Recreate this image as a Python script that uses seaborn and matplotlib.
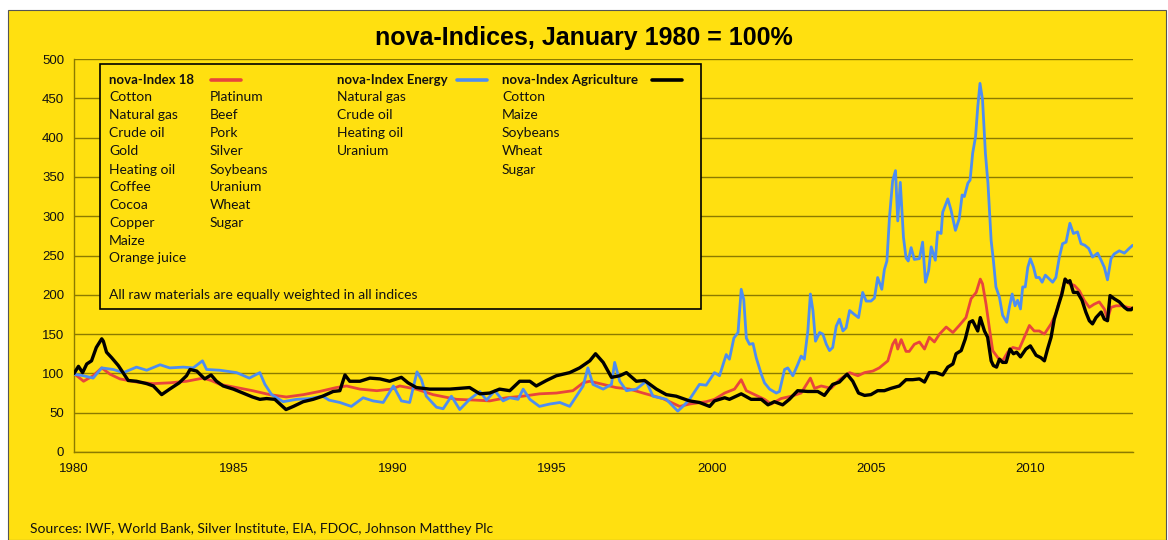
import pandas as pd
import seaborn as sns
import matplotlib.pyplot as plt
from matplotlib.patches import Rectangle
from matplotlib.lines import Line2D
from matplotlib.ticker import MultipleLocator

W, H = 1168, 540
BG = "#FFE010"
GRID = "#8C7A00"
RED = "#E8453C"
BLUE = "#4D8DF2"
BLACK = "#000000"

# nova-Index 18
idx18_years = [1980.0, 1980.3, 1980.6, 1980.87, 1981.13, 1981.44, 1981.96, 1982.49, 1983.0, 1983.53,
               1984.05, 1984.3, 1984.58, 1985.1, 1985.6, 1986.14, 1986.66, 1987.2, 1987.7, 1988.23,
               1988.55, 1988.97, 1989.5, 1989.95, 1990.22, 1990.74, 1991.26, 1992.0, 1992.6, 1993.04,
               1993.56, 1994.08, 1994.6, 1995.13, 1995.65, 1995.97, 1996.18, 1996.6, 1997.0, 1997.43,
               1997.85, 1998.47, 1999.0, 1999.31, 1999.83, 2000.09, 2000.41, 2000.72, 2000.93, 2001.09,
               2001.35, 2001.66, 2001.87, 2002.18, 2002.5, 2002.81, 2003.1, 2003.23, 2003.44, 2003.75,
               2004.01, 2004.33, 2004.59, 2004.8, 2005.06, 2005.26, 2005.53, 2005.68, 2005.77, 2005.84,
               2005.95, 2006.1, 2006.2, 2006.36, 2006.52, 2006.68, 2006.83, 2006.99, 2007.15, 2007.36,
               2007.57, 2007.77, 2007.98, 2008.14, 2008.3, 2008.43, 2008.5, 2008.61, 2008.71, 2008.82,
               2008.98, 2009.13, 2009.29, 2009.45, 2009.65, 2009.81, 2009.97, 2010.12, 2010.28, 2010.44,
               2010.65, 2010.8, 2010.96, 2011.09, 2011.22, 2011.38, 2011.54, 2011.69, 2011.85, 2012.0,
               2012.16, 2012.32, 2012.42, 2012.53, 2012.69, 2012.9, 2013.05, 2013.21]
idx18_vals = [100, 90, 97, 107, 99, 93, 89, 87, 88, 90,
              94, 91, 86, 82, 78, 73, 70, 73, 77, 82,
              84, 80, 78, 80, 84, 80, 73, 67, 66, 65,
              69, 71, 74, 75, 78, 88, 90, 86, 82, 80,
              75, 68, 58, 61, 64, 67, 75, 80, 92, 78,
              73, 67, 61, 68, 71, 75, 94, 81, 84, 81,
              92, 101, 97, 101, 103, 107, 116, 137, 143, 131,
              143, 128, 128, 137, 140, 131, 146, 140, 150, 159,
              152, 161, 171, 195, 203, 220, 214, 188, 159, 129,
              120, 116, 127, 133, 131, 146, 161, 154, 154, 150,
              163, 176, 199, 220, 214, 212, 205, 193, 184, 188,
              191, 182, 169, 184, 186, 186, 184, 183]

# nova-Index Energy
energy_years = [1980.0, 1980.3, 1980.6, 1980.87, 1981.23, 1981.55, 1981.96, 1982.28, 1982.7, 1983.0,
                1983.43, 1983.74, 1984.03, 1984.16, 1984.58, 1985.1, 1985.5, 1985.83, 1985.99, 1986.2,
                1986.56, 1986.98, 1987.4, 1987.8, 1988.0, 1988.34, 1988.7, 1989.07, 1989.38, 1989.7,
                1990.02, 1990.27, 1990.53, 1990.76, 1990.9, 1991.05, 1991.37, 1991.58, 1991.84, 1992.1,
                1992.41, 1992.73, 1992.94, 1993.2, 1993.46, 1993.67, 1993.93, 1994.09, 1994.3, 1994.6,
                1994.92, 1995.24, 1995.55, 1995.76, 1995.97, 1996.12, 1996.28, 1996.6, 1996.86, 1996.96,
                1997.12, 1997.33, 1997.64, 1997.95, 1998.16, 1998.58, 1998.94, 1999.1, 1999.31, 1999.62,
                1999.83, 2000.09, 2000.25, 2000.46, 2000.56, 2000.7, 2000.83, 2000.93, 2001.01, 2001.09,
                2001.19, 2001.3, 2001.4, 2001.56, 2001.66, 2001.82, 2002.03, 2002.13, 2002.29, 2002.39,
                2002.55, 2002.7, 2002.81, 2002.91, 2003.02, 2003.1, 2003.18, 2003.26, 2003.39, 2003.49,
                2003.6, 2003.7, 2003.8, 2003.91, 2004.01, 2004.12, 2004.22, 2004.33, 2004.48, 2004.61,
                2004.74, 2004.85, 2005.0, 2005.11, 2005.21, 2005.34, 2005.42, 2005.5, 2005.58, 2005.68,
                2005.77, 2005.84, 2005.92, 2006.02, 2006.1, 2006.17, 2006.26, 2006.36, 2006.52, 2006.62,
                2006.71, 2006.81, 2006.89, 2007.02, 2007.09, 2007.2, 2007.25, 2007.41, 2007.51, 2007.65,
                2007.77, 2007.86, 2007.93, 2008.04, 2008.11, 2008.19, 2008.28, 2008.35, 2008.42, 2008.5,
                2008.59, 2008.67, 2008.77, 2008.84, 2008.92, 2009.03, 2009.13, 2009.26, 2009.34, 2009.43,
                2009.52, 2009.6, 2009.69, 2009.76, 2009.84, 2009.92, 2010.0, 2010.1, 2010.18, 2010.28,
                2010.37, 2010.47, 2010.6, 2010.7, 2010.8, 2010.91, 2011.01, 2011.12, 2011.24, 2011.35,
                2011.48, 2011.59, 2011.71, 2011.83, 2011.95, 2012.11, 2012.22, 2012.32, 2012.42, 2012.53,
                2012.63, 2012.79, 2012.95, 2013.1, 2013.21]
energy_vals = [99, 97, 94, 107, 105, 101, 108, 104, 111, 107,
               108, 107, 116, 105, 104, 101, 94, 101, 86, 73,
               64, 67, 68, 71, 66, 63, 58, 69, 65, 63,
               84, 65, 63, 102, 92, 71, 57, 55, 71, 54,
               67, 77, 66, 78, 65, 69, 67, 80, 67, 58,
               61, 63, 58, 71, 84, 107, 86, 80, 86, 114,
               90, 78, 80, 90, 71, 67, 52, 58, 67, 86,
               85, 101, 97, 124, 118, 145, 152, 207, 194, 145,
               137, 138, 120, 99, 88, 80, 75, 77, 105, 107,
               97, 111, 122, 118, 154, 201, 180, 141, 152, 150,
               137, 129, 133, 160, 169, 154, 158, 180, 175, 171,
               203, 192, 192, 196, 222, 207, 232, 243, 298, 345,
               358, 294, 343, 273, 247, 243, 260, 245, 246, 267,
               216, 231, 261, 244, 280, 278, 305, 322, 308, 282,
               297, 327, 325, 342, 346, 380, 401, 439, 469, 448,
               380, 342, 269, 244, 210, 197, 174, 165, 184, 201,
               186, 193, 182, 210, 210, 235, 246, 235, 222, 222,
               216, 225, 220, 216, 222, 248, 265, 267, 291, 278,
               280, 265, 263, 259, 248, 253, 244, 235, 219, 246,
               252, 256, 253, 259, 263]

# nova-Index Agriculture
agri_years = [1980.0, 1980.14, 1980.27, 1980.4, 1980.55, 1980.7, 1980.87, 1980.92, 1981.02, 1981.18,
              1981.39, 1981.6, 1981.7, 1981.96, 1982.28, 1982.49, 1982.75, 1983.0, 1983.3, 1983.53,
              1983.64, 1983.85, 1984.1, 1984.3, 1984.47, 1984.68, 1985.0, 1985.3, 1985.6, 1985.83,
              1986.04, 1986.3, 1986.46, 1986.65, 1986.88, 1987.19, 1987.5, 1987.8, 1988.13, 1988.34,
              1988.5, 1988.65, 1988.97, 1989.28, 1989.6, 1989.9, 1990.27, 1990.48, 1990.74, 1991.16,
              1991.79, 1992.41, 1992.73, 1993.04, 1993.35, 1993.67, 1993.98, 1994.3, 1994.5, 1994.82,
              1995.13, 1995.55, 1995.86, 1996.18, 1996.36, 1996.6, 1996.86, 1997.12, 1997.33, 1997.64,
              1997.9, 1998.27, 1998.58, 1998.89, 1999.31, 1999.62, 1999.94, 2000.09, 2000.41, 2000.56,
              2000.93, 2001.24, 2001.56, 2001.77, 2001.97, 2002.23, 2002.44, 2002.7, 2003.02, 2003.33,
              2003.54, 2003.8, 2004.01, 2004.25, 2004.43, 2004.61, 2004.8, 2005.0, 2005.21, 2005.42,
              2005.63, 2005.89, 2006.1, 2006.31, 2006.52, 2006.68, 2006.83, 2007.04, 2007.25, 2007.41,
              2007.57, 2007.67, 2007.83, 2007.96, 2008.09, 2008.19, 2008.35, 2008.43, 2008.56, 2008.66,
              2008.77, 2008.84, 2008.94, 2009.03, 2009.13, 2009.24, 2009.36, 2009.47, 2009.57, 2009.69,
              2009.86, 2010.0, 2010.18, 2010.33, 2010.44, 2010.54, 2010.65, 2010.75, 2010.89, 2010.99,
              2011.09, 2011.17, 2011.24, 2011.35, 2011.48, 2011.62, 2011.74, 2011.85, 2011.95, 2012.06,
              2012.22, 2012.32, 2012.42, 2012.5, 2012.63, 2012.79, 2012.95, 2013.05, 2013.16, 2013.21]
agri_vals = [100, 109, 101, 112, 116, 133, 144, 141, 127, 120,
             110, 97, 91, 90, 87, 84, 73, 80, 88, 97,
             105, 103, 93, 98, 90, 84, 80, 75, 70, 67,
             68, 67, 61, 54, 58, 64, 67, 71, 77, 78,
             98, 90, 90, 94, 93, 90, 95, 88, 82, 80,
             80, 82, 74, 75, 80, 78, 90, 90, 84, 91,
             97, 101, 107, 116, 125, 114, 95, 97, 101, 90,
             91, 80, 73, 71, 65, 63, 58, 65, 69, 67,
             74, 67, 67, 60, 64, 60, 67, 78, 77, 77,
             72, 86, 89, 99, 90, 75, 72, 73, 78, 78,
             81, 84, 92, 92, 93, 89, 101, 101, 98, 108,
             112, 125, 129, 144, 165, 167, 154, 171, 154, 146,
             116, 110, 108, 118, 114, 114, 131, 125, 127, 121,
             131, 135, 123, 120, 116, 131, 146, 169, 188, 201,
             220, 216, 218, 203, 203, 193, 178, 167, 163, 171,
             178, 169, 167, 199, 195, 191, 184, 181, 181, 183]

idx18_members_a = ["Cotton", "Natural gas", "Crude oil", "Gold", "Heating oil",
                   "Coffee", "Cocoa", "Copper", "Maize", "Orange juice"]
idx18_members_b = ["Platinum", "Beef", "Pork", "Silver", "Soybeans", "Uranium", "Wheat", "Sugar"]
energy_members = ["Natural gas", "Crude oil", "Heating oil", "Uranium"]
agri_members = ["Cotton", "Maize", "Soybeans", "Wheat", "Sugar"]

sns.set_style("white")
plt.rcParams["font.family"] = ["Liberation Sans", "DejaVu Sans"]

fig = plt.figure(figsize=(W / 100, H / 100), dpi=100, facecolor="white")


def fx(x):
    return x / W


def fy(y):
    return 1 - y / H


# yellow chart area with a thin frame
fig.patches.append(Rectangle((fx(8), fy(540)), fx(1158), 530 / H, transform=fig.transFigure,
                             facecolor=BG, edgecolor="#555555", linewidth=0.8, zorder=-5))

ax = fig.add_axes([fx(74), fy(452), fx(1133 - 74), (452 - 59) / H])
ax.set_facecolor("none")

series = [(idx18_years, idx18_vals, RED, 2.0),
          (energy_years, energy_vals, BLUE, 2.0),
          (agri_years, agri_vals, BLACK, 2.4)]
for yrs, vals, col, lw in series:
    d = pd.DataFrame({"year": yrs, "value": vals})
    sns.lineplot(data=d, x="year", y="value", ax=ax, color=col, linewidth=lw,
                 estimator=None, sort=False, zorder=3)

ax.set_xlim(1980, 2013.22)
ax.set_ylim(0, 500)
ax.yaxis.set_major_locator(MultipleLocator(50))
ax.xaxis.set_major_locator(MultipleLocator(5))
ax.xaxis.set_minor_locator(MultipleLocator(0.1))
ax.grid(axis="y", color=GRID, linewidth=1.0)
ax.set_axisbelow(True)
ax.set_xlabel("")
ax.set_ylabel("")
for s in ["top", "right"]:
    ax.spines[s].set_visible(False)
for s in ["left", "bottom"]:
    ax.spines[s].set_color(GRID)
    ax.spines[s].set_linewidth(1.0)
ax.tick_params(axis="both", which="major", length=4, width=1, color=GRID,
               labelsize=9.5, labelcolor="#111111", pad=3)
ax.tick_params(axis="x", which="minor", length=3, width=0.8, color=GRID)
ax.tick_params(axis="x", which="major", pad=4)

fig.text(0.5, fy(38), "nova-Indices, January 1980 = 100%", ha="center", va="center",
         fontsize=18, fontweight="bold", color="black")

# legend box
fig.patches.append(Rectangle((fx(100), fy(309)), fx(601), 245 / H, transform=fig.transFigure,
                             facecolor=BG, edgecolor="black", linewidth=1.2, zorder=2))

LFONT = ["Lato", "DejaVu Sans"]


def ltext(x, y, s, bold=False):
    fig.text(fx(x), fy(y), s, ha="left", va="center", fontsize=9.5 if bold else 10, family=LFONT,
             fontweight="bold" if bold else "normal", color="#111111", zorder=4)


def lline(x0, x1, y, col):
    fig.lines.append(Line2D([fx(x0), fx(x1)], [fy(y), fy(y)], transform=fig.transFigure,
                            color=col, linewidth=2.6, zorder=4))


ltext(109, 80, "nova-Index 18", bold=True)
lline(211, 241, 80, RED)
ltext(337, 80, "nova-Index Energy", bold=True)
lline(457, 487, 80, BLUE)
ltext(502, 80, "nova-Index Agriculture", bold=True)
lline(652, 682, 80, BLACK)

rows = [97, 115, 133, 151, 170, 187, 205, 223, 241, 258]
for y, name in zip(rows, idx18_members_a):
    ltext(109, y, name)
for y, name in zip(rows, idx18_members_b):
    ltext(210, y, name)
for y, name in zip(rows, energy_members):
    ltext(337, y, name)
for y, name in zip(rows, agri_members):
    ltext(502, y, name)
ltext(109, 295, "All raw materials are equally weighted in all indices")

fig.text(fx(30), fy(529), "Sources: IWF, World Bank, Silver Institute, EIA, FDOC, Johnson Matthey Plc",
         ha="left", va="center", fontsize=10, family=LFONT, color="#111111")

fig.savefig("out.png", dpi=100, facecolor="white")
